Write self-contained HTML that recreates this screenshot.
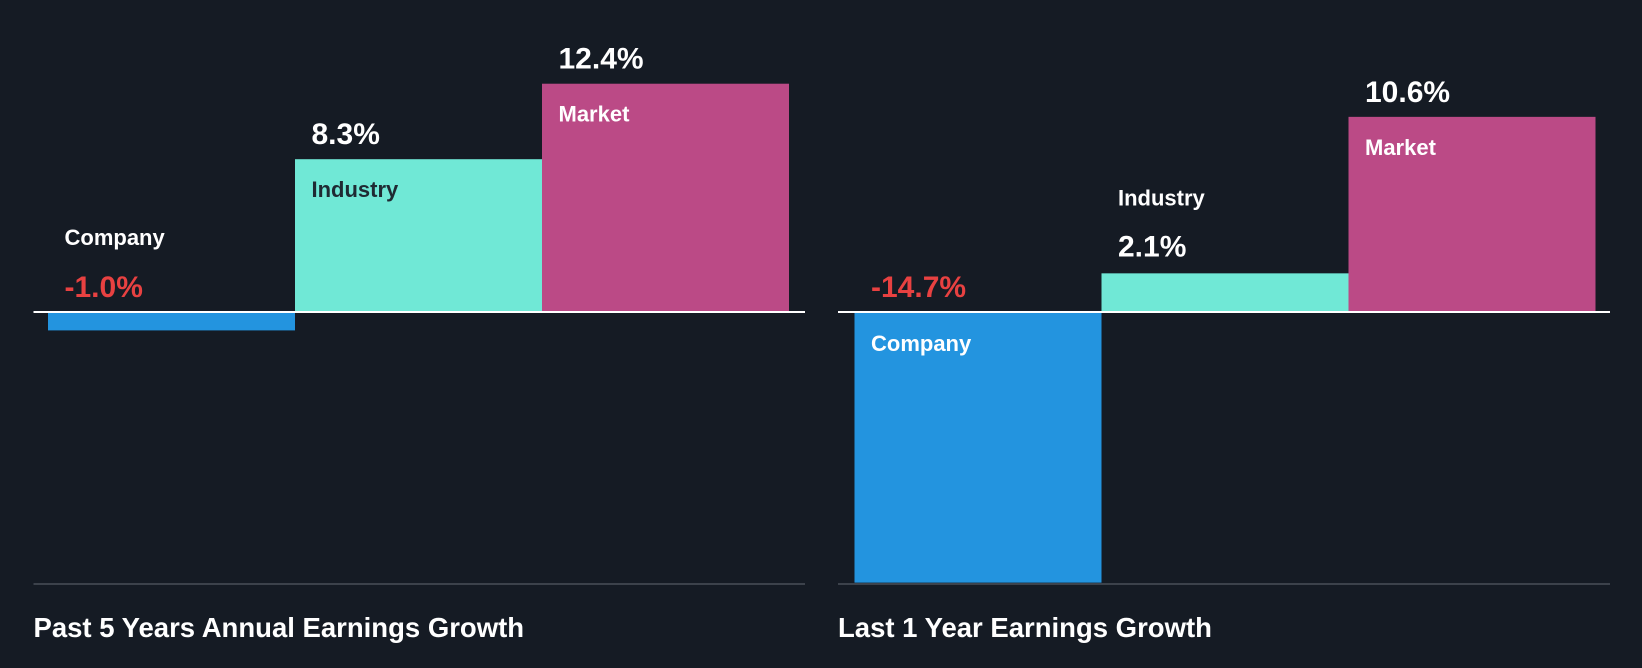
<!DOCTYPE html>
<html><head><meta charset="utf-8"><style>
html,body{margin:0;padding:0;background:#151b24;}
svg{display:block;font-family:"Liberation Sans",sans-serif;font-weight:bold;}
</style></head><body>
<svg id="chart" width="1642" height="668" viewBox="0 0 1642 668"></svg>
<script>
const categories = ["Company","Industry","Market"];
const past5Values = [-1.0, 8.3, 12.4];
const last1Values = [-14.7, 2.1, 10.6];
const valueLabels5 = ["-1.0%","8.3%","12.4%"];
const valueLabels1 = ["-14.7%","2.1%","10.6%"];
const panelTitles = ["Past 5 Years Annual Earnings Growth","Last 1 Year Earnings Growth"];

const NS="http://www.w3.org/2000/svg";
const svg=document.getElementById('chart');
const colors=["#2394df","#70e8d6","#bb4a86"];
const zeroY=312, pxPerUnit=18.41, barW=247;
function y(v){return zeroY - v*pxPerUnit;}
function mk(tag,attrs,parent){const e=document.createElementNS(NS,tag);for(const k in attrs)e.setAttribute(k,attrs[k]);(parent||svg).appendChild(e);return e;}
function txt(s,x,yy,size,fill,name){const t=mk('text',{x:x,y:yy,'font-size':size,fill:fill});t.textContent=s;


return t;}

const panels=[{x0:33.5,x1:805,bx:48,vals:past5Values,labs:valueLabels5,title:panelTitles[0]},
              {x0:838,x1:1610,bx:854.5,vals:last1Values,labs:valueLabels1,title:panelTitles[1]}];
panels.forEach((p,pi)=>{
  const g=mk('g',{});
  
  
  p.vals.forEach((v,i)=>{
    const x=p.bx+i*barW;
    const top=Math.min(y(v),zeroY), h=Math.abs(y(v)-zeroY);
    const r=mk('rect',{x:x,y:top,width:barW,height:h,fill:colors[i]},g);
    
    
    const lx=x+16.5;
    const valColor = v<0 ? "#e84141" : "#ffffff";
    const catColor = i===1 ? "#1f2a33" : "#ffffff";
    if(v<0){
      txt(p.labs[i],lx,zeroY-15,30,valColor,'value-label-'+categories[i].toLowerCase());
      if(h>80) txt(categories[i],lx,zeroY+39,22,"#ffffff",'category-label-'+categories[i].toLowerCase());
      else txt(categories[i],lx,zeroY-67,22,"#ffffff",'category-label-'+categories[i].toLowerCase());
    } else if(h>80){
      txt(p.labs[i],lx,top-15,30,valColor,'value-label-'+categories[i].toLowerCase());
      txt(categories[i],lx,top+38,22,catColor,'category-label-'+categories[i].toLowerCase());
    } else {
      txt(p.labs[i],lx,top-17,30,valColor,'value-label-'+categories[i].toLowerCase());
      txt(categories[i],lx,top-68,22,"#ffffff",'category-label-'+categories[i].toLowerCase());
    }
  });
  const zl=mk('line',{x1:p.x0,x2:p.x1,y1:zeroY,y2:zeroY,stroke:"#ffffff",'stroke-width':2});
  
  
  const bl=mk('line',{x1:p.x0,x2:p.x1,y1:584,y2:584,stroke:"#3c424b",'stroke-width':2});
  
  
  txt(p.title,p.x0,637,27.5,"#ffffff",'panel-title');
});
</script>
</body></html>
